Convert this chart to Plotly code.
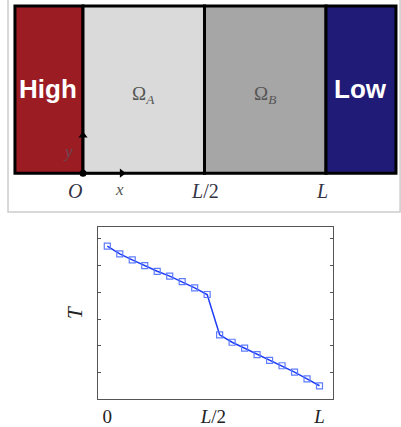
import plotly.graph_objects as go

# ---- data ----
x_frac = [i / 17 for i in range(18)]
T_vals = [5.73, 5.44, 5.22, 5.00, 4.79, 4.61, 4.40, 4.17, 3.92,
          2.41, 2.13, 1.91, 1.67, 1.45, 1.25, 1.01, 0.76, 0.50]
x_tick_vals = [0, 0.5, 1]
x_tick_text = ["0", "<i>L</i>/2", "<i>L</i>"]
y_tick_vals = [1, 2, 3, 4, 5, 6]

# schematic regions (in units of L)
region_edges = [-0.28, 0.0, 0.5, 1.0, 1.288]
region_colors = ["#9c1c24", "#dadada", "#a6a6a6", "#1f1b76"]
region_labels = ["<b>High</b>", "Ω<sub><i>A</i></sub>", "Ω<sub><i>B</i></sub>", "<b>Low</b>"]
schem_ticks = [(0.0, "<i>O</i>", -0.035), (0.5, "<i>L</i>/2", 0.5), (1.0, "<i>L</i>", 0.985)]

W, H = 401, 427
fig = go.Figure()

# main plot
fig.add_trace(go.Scatter(
    x=x_frac, y=T_vals, mode="lines+markers", xaxis="x", yaxis="y",
    line=dict(color="#1f3cf5", width=1.5),
    marker=dict(symbol="square-open", size=6, color="#5f7cff", line=dict(width=1.2)),
    showlegend=False, hoverinfo="skip"))

# schematic coordinate arrows (lines + heads) and origin dot
fig.add_trace(go.Scatter(x=[0, 0, None, 0, 0.155], y=[0, 0.225, None, 0, 0],
                         mode="lines", xaxis="x2", yaxis="y2",
                         line=dict(color="black", width=2), showlegend=False,
                         hoverinfo="skip"))
fig.add_trace(go.Scatter(x=[0, 0.16], y=[0.225, 0], mode="markers", xaxis="x2", yaxis="y2",
                         marker=dict(color="black", size=8,
                                     symbol=["triangle-up", "triangle-right"]),
                         showlegend=False, hoverinfo="skip"))
fig.add_trace(go.Scatter(x=[0], y=[0], mode="markers", xaxis="x2", yaxis="y2",
                         marker=dict(color="black", size=7), showlegend=False,
                         hoverinfo="skip"))

shapes = []
annotations = []
# regions
for i, col in enumerate(region_colors):
    shapes.append(dict(type="rect", xref="x2", yref="y2",
                       x0=region_edges[i], x1=region_edges[i + 1], y0=0, y1=1,
                       fillcolor=col, line=dict(color="black", width=3), layer="below"))
# region labels
label_pos = [(-0.142, 0.505, "white", 26, "Arial, Liberation Sans, sans-serif"),
             (0.247, 0.47, "#555555", 19, "Liberation Serif, serif"),
             (0.749, 0.47, "#555555", 19, "Liberation Serif, serif"),
             (1.144, 0.505, "white", 26, "Arial, Liberation Sans, sans-serif")]
for lab, (lx, ly, c, s, f) in zip(region_labels, label_pos):
    annotations.append(dict(xref="x2", yref="y2", x=lx, y=ly, text=lab, showarrow=False,
                            font=dict(color=c, size=s, family=f)))
annotations.append(dict(xref="x2", yref="y2", x=-0.062, y=0.13, text="<i>y</i>",
                        showarrow=False, font=dict(size=17, color="#6a4a55",
                                                   family="Liberation Serif, serif")))
annotations.append(dict(xref="x2", yref="y2", x=0.152, y=-0.1, text="<i>x</i>",
                        showarrow=False, font=dict(size=17, color="#555555",
                                                   family="Liberation Serif, serif")))
for _, txt, px in schem_ticks:
    annotations.append(dict(xref="x2", yref="y2", x=px, y=-0.105, text=txt,
                            showarrow=False, font=dict(size=20, color="#333344",
                                                       family="Liberation Serif, serif")))
# light gray frame around schematic
shapes.append(dict(type="path", xref="x2", yref="y2",
                   path="M -0.3086 1.1 L -0.3086 -0.232 L 1.305 -0.232 L 1.305 1.1",
                   line=dict(color="#cccccc", width=1.5)))

fig.update_layout(
    width=W, height=H, margin=dict(l=0, r=0, t=0, b=0),
    paper_bgcolor="white", plot_bgcolor="rgba(0,0,0,0)",
    shapes=shapes, annotations=annotations,
    xaxis=dict(domain=[0.2451, 0.8297], range=[-0.0424, 1.0622],
               tickvals=x_tick_vals, ticktext=x_tick_text, ticks="",
               showgrid=False, zeroline=False, showline=True, mirror=True,
               linecolor="#555555", linewidth=1,
               tickfont=dict(size=19, color="#222222", family="Liberation Serif, serif")),
    yaxis=dict(domain=[0.0609, 0.4653], range=[0.0, 6.44],
               tickvals=y_tick_vals, showticklabels=False, ticks="inside", ticklen=3,
               tickcolor="#555555", showgrid=False, zeroline=False, showline=True,
               mirror="ticks", linecolor="#555555", linewidth=1,
               title=dict(text="<i>T</i>", standoff=8,
                          font=dict(size=21, color="#222222", family="Liberation Serif, serif"))),
    xaxis2=dict(domain=[0, 1], range=[-83 / 243, (W - 83) / 243], visible=False,
                anchor="y2"),
    yaxis2=dict(domain=[0, 1], range=[(174 - H) / 168, 174 / 168], visible=False,
                anchor="x2"),
)

fig.write_html("out.html")
